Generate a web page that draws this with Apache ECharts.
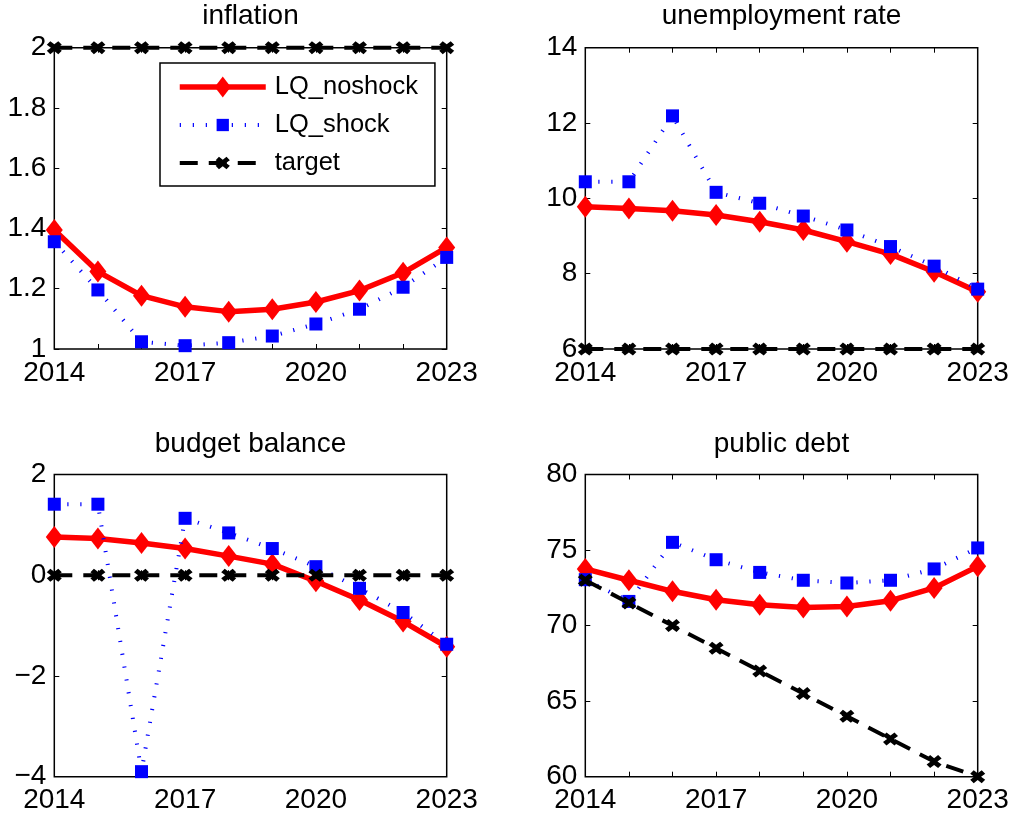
<!DOCTYPE html>
<html>
<head>
<meta charset="utf-8">
<script src="https://cdn.jsdelivr.net/npm/echarts@6/dist/echarts.min.js"></script>
<style>
html,body{margin:0;padding:0;background:#fff;}
#chart{width:1012px;height:821px;}
</style>
</head>
<body>
<div id="chart"></div>
<script>
// ---- data ----
const years = [2014, 2015, 2016, 2017, 2018, 2019, 2020, 2021, 2022, 2023];
const xLabelYears = [2014, 2017, 2020, 2023];

const inflNoshock = [1.395, 1.257, 1.177, 1.140, 1.124, 1.132, 1.156, 1.194, 1.253, 1.337];
const inflShock   = [1.356, 1.196, 1.024, 1.011, 1.021, 1.043, 1.083, 1.132, 1.205, 1.304];
const inflTarget  = [2, 2, 2, 2, 2, 2, 2, 2, 2, 2];

const unempNoshock = [9.78, 9.73, 9.67, 9.56, 9.38, 9.16, 8.85, 8.52, 8.05, 7.52];
const unempShock   = [10.44, 10.44, 12.19, 10.16, 9.87, 9.53, 9.16, 8.72, 8.20, 7.59];
const unempTarget  = [6, 6, 6, 6, 6, 6, 6, 6, 6, 6];

const budgetNoshock = [0.76, 0.73, 0.64, 0.53, 0.38, 0.22, -0.12, -0.49, -0.92, -1.42];
const budgetShock   = [1.41, 1.41, -3.90, 1.13, 0.84, 0.53, 0.17, -0.26, -0.74, -1.37];
const budgetTarget  = [0, 0, 0, 0, 0, 0, 0, 0, 0, 0];

const debtNoshock = [73.75, 73.0, 72.27, 71.71, 71.38, 71.2, 71.27, 71.65, 72.49, 73.92];
const debtShock   = [73.04, 71.6, 75.51, 74.36, 73.52, 73.0, 72.82, 73.0, 73.75, 75.14];
const debtTarget  = [73, 71.5, 70, 68.5, 67, 65.5, 64, 62.5, 61, 60];

const panelTitles = ['inflation', 'unemployment rate', 'budget balance', 'public debt'];
const seriesNames = ['LQ_noshock', 'LQ_shock', 'target'];
const yRanges = [[1, 2, 0.2], [6, 14, 2], [-4, 2, 2], [60, 80, 5]];

// ---- layout / style ----
const FONT = "'Liberation Sans', Arial, Helvetica, sans-serif";
const grids = [
  {left: 54.3, top: 47.7, width: 392.4, height: 301.3},
  {left: 585.3, top: 47.7, width: 392.4, height: 301.3},
  {left: 54.3, top: 474.5, width: 392.4, height: 302.2},
  {left: 585.3, top: 474.5, width: 392.4, height: 302.2}
];
const panelData = [
  [inflNoshock, inflShock, inflTarget],
  [unempNoshock, unempShock, unempTarget],
  [budgetNoshock, budgetShock, budgetTarget],
  [debtNoshock, debtShock, debtTarget]
];

const SYM_DIAMOND = 'path://M0,0M22,22M11,0L19.5,11L11,22L2.5,11Z';
const SYM_SQUARE = 'path://M0,0M22,22M4.5,4.5L17.5,4.5L17.5,17.5L4.5,17.5Z';
const SYM_X = 'path://M0,0M22,22M3.5,8L7,4.5L11,7.6L15,4.5L18.5,8L14.4,11L18.5,14L15,17.5L11,14.4L7,17.5L3.5,14L7.6,11Z';

const seriesStyles = [
  {color: '#ff0000', width: 5.5, type: 'solid', symbol: SYM_DIAMOND},
  {color: '#0000ff', width: 4, type: [1.2, 11.8], symbol: SYM_SQUARE},
  {color: '#000000', width: 4, type: [18, 11], symbol: SYM_X}
];

const option = {
  animation: false,
  backgroundColor: '#ffffff',
  textStyle: {fontFamily: FONT},
  grid: grids.map(g => Object.assign({show: true, borderColor: '#000', borderWidth: 1.5, backgroundColor: 'transparent', containLabel: false}, g)),
  xAxis: [],
  yAxis: [],
  series: [],
  legend: {
    show: true,
    orient: 'vertical',
    left: 160,
    top: 63,
    padding: [11, 17, 10, 17],
    itemGap: 12,
    itemWidth: 86,
    itemHeight: 26,
    borderColor: '#000',
    borderWidth: 1.5,
    backgroundColor: '#fff',
    selectedMode: false,
    data: seriesNames.map((n, i) => ({
      name: n,
      lineStyle: {width: seriesStyles[i].width, type: seriesStyles[i].type, color: seriesStyles[i].color}
    })),
    textStyle: {fontFamily: FONT, fontSize: 25.5, color: '#000', lineHeight: 26, padding: [0, 0, 0, 4]}
  },
  graphic: []
};

for (let p = 0; p < 4; p++) {
  const [ymin, ymax, yint] = yRanges[p];
  const base = {
    gridIndex: p, type: 'value', min: 2014, max: 2023, interval: 1,
    splitLine: {show: false}, axisLine: {show: false},
    axisTick: {show: true, inside: true, length: 5, lineStyle: {color: '#000', width: 1}}
  };
  option.xAxis.push(Object.assign({}, base, {
    position: 'bottom',
    axisLabel: {
      show: true, color: '#000', fontSize: 28, fontFamily: FONT, margin: 10,
      formatter: v => xLabelYears.indexOf(v) >= 0 ? String(v) : ''
    }
  }));
  option.xAxis.push(Object.assign({}, base, {position: 'top', axisLabel: {show: false}}));
  const ybase = {
    gridIndex: p, type: 'value', min: ymin, max: ymax, interval: yint,
    splitLine: {show: false}, axisLine: {show: false},
    axisTick: {show: true, inside: true, length: 5, lineStyle: {color: '#000', width: 1}}
  };
  option.yAxis.push(Object.assign({}, ybase, {
    position: 'left',
    axisLabel: {
      show: true, color: '#000', fontSize: 28, fontFamily: FONT, margin: 8,
      formatter: v => String(+v.toFixed(6)).replace('-', '\u2212')
    }
  }));
  option.yAxis.push(Object.assign({}, ybase, {position: 'right', axisLabel: {show: false}}));

  for (let s = 0; s < 3; s++) {
    const st = seriesStyles[s];
    option.series.push({
      name: seriesNames[s],
      type: 'line',
      xAxisIndex: p * 2,
      yAxisIndex: p * 2,
      data: years.map((y, i) => [y, panelData[p][s][i]]),
      symbol: st.symbol,
      symbolSize: 22,
      showSymbol: true,
      showAllSymbol: true,
      clip: false,
      itemStyle: {color: st.color, borderWidth: 0},
      lineStyle: {color: st.color, width: st.width, type: st.type, cap: 'butt'},
      emphasis: {disabled: true},
      z: 2 + s
    });
  }

  const g = grids[p];
  option.graphic.push({
    type: 'text',
    x: g.left + g.width / 2,
    y: p < 2 ? 16 : 444,
    style: {text: panelTitles[p], fill: '#000', font: '28px ' + FONT, textAlign: 'center', textVerticalAlign: 'middle'}
  });
}

const chart = echarts.init(document.getElementById('chart'), null, {renderer: 'canvas'});
chart.setOption(option);
</script>
</body>
</html>
